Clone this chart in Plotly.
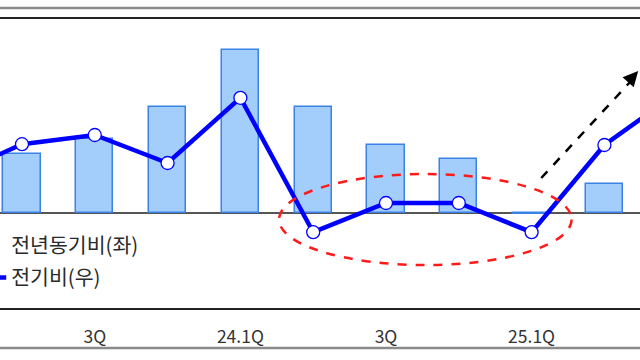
import plotly.graph_objects as go

# quarters (23.1Q .. 25.3Q); first and last are only partly in view
quarters = ["23.1Q", "23.2Q", "23.3Q", "23.4Q", "24.1Q", "24.2Q",
            "24.3Q", "24.4Q", "25.1Q", "25.2Q", "25.3Q"]
tick_labels = ["23.1Q", "", "3Q", "", "24.1Q", "", "3Q", "", "25.1Q", "", "3Q"]

# 전년동기비 (left axis, %)
yoy = [None, 2.95, 3.7, 5.3, 8.15, 5.3, 3.4, 2.7, -0.07, 1.45, None]
# 전기비 (right axis, %)
qoq = [0.9, 1.72, 1.95, 1.25, 2.88, -0.48, 0.25, 0.25, -0.48, 1.7, 3.0]

pos = list(range(len(quarters)))
shown_ticks = [p for p, t in zip(pos, tick_labels) if t]
shown_text = [t for t in tick_labels if t]

FONT = "Noto Sans CJK KR"

fig = go.Figure()
fig.add_trace(go.Bar(
    x=pos, y=yoy, name="전년동기비(좌)", width=0.51,
    marker=dict(color="#A3CDFA", line=dict(color="#3B82E6", width=1.5)),
    legendgroup="a", yaxis="y",
))
fig.add_trace(go.Scatter(
    x=pos, y=qoq, name="전기비(우)", mode="lines+markers",
    line=dict(color="#0000FF", width=4.5),
    marker=dict(symbol="circle", size=13, color="white",
                line=dict(color="#0000FF", width=1.3)),
    legendgroup="b", yaxis="y2",
))

# highlight ellipse around the weak quarters (24.2Q .. 25.1Q)
i0, i1 = quarters.index("24.2Q"), quarters.index("25.1Q")
fig.add_shape(type="circle", xref="x", yref="y",
              x0=i0 - 0.47, x1=i1 + 0.55, y0=-2.6, y1=1.95,
              line=dict(color="#FF1A1A", width=2.5, dash="dash"))

# dashed up-trend arrow
ax0, ay0, ax1, ay1 = 8.133, 1.75, 9.464, 7.1
fig.add_shape(type="line", xref="x", yref="y",
              x0=ax0, y0=ay0, x1=ax1 - 0.06, y1=ay1 - 0.35,
              line=dict(color="black", width=2.5, dash="dash"))
fig.add_annotation(x=ax1, y=ay1, xref="x", yref="y", ax=-9, ay=10,
                   showarrow=True, arrowhead=2, arrowsize=1.2,
                   arrowwidth=2.5, arrowcolor="black", text="")

# decorative frame lines
for yy in (8, 348):
    fig.add_shape(type="line", xref="paper", yref="paper",
                  x0=0, x1=1, y0=1 - yy / 360, y1=1 - yy / 360,
                  line=dict(color="#8A8A8A", width=2.5))

fig.update_layout(
    width=640, height=360,
    margin=dict(l=0, r=0, t=0, b=0, autoexpand=False),
    paper_bgcolor="white", plot_bgcolor="white",
    bargap=0,
    showlegend=True,
    legend=dict(x=-0.045, xanchor="left", y=1 - 225 / 360, yanchor="top",
                font=dict(family=FONT, size=20.5, color="#2A2A2A"),
                bgcolor="rgba(0,0,0,0)", traceorder="grouped",
                tracegroupgap=3),
    xaxis=dict(range=[0.698, 9.489], tickmode="array",
               tickvals=shown_ticks, ticktext=shown_text,
               ticks="outside", ticklen=12, tickcolor="rgba(0,0,0,0)",
               tickfont=dict(family=FONT, size=17.5, color="#333333"),
               showline=True, mirror=True, linecolor="#222222", linewidth=2,
               showgrid=False, zeroline=False),
    yaxis=dict(domain=[52 / 360, 341 / 360], range=[-4.75, 9.7],
               showgrid=False, showticklabels=False, ticks="",
               zeroline=True, zerolinecolor="#555555", zerolinewidth=2),
    yaxis2=dict(overlaying="y", side="right", range=[-2.375, 4.85],
                showgrid=False, showticklabels=False, ticks="",
                zeroline=False),
)

fig.write_html("out.html",
               config={"displayModeBar": False},
               post_script="document.body.style.margin='0';"
                           "document.body.style.padding='0';")
